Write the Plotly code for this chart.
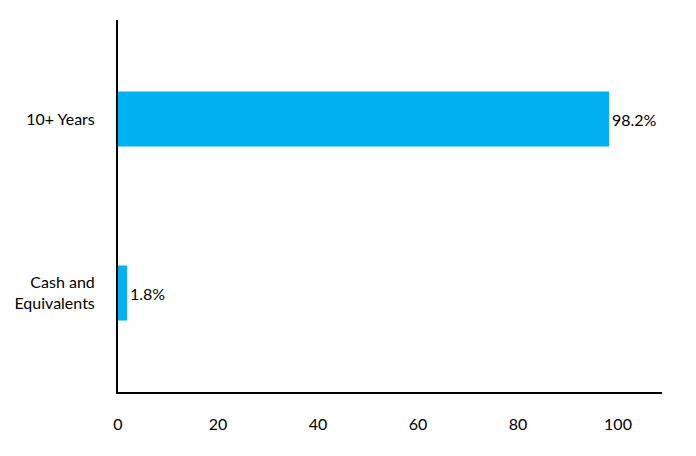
import plotly.graph_objects as go

categories = ["Cash and<br>Equivalents", "10+ Years"]
values = [1.8, 98.2]
labels = ["1.8%", "98.2%"]
x_ticks = [0, 20, 40, 60, 80, 100]

fig = go.Figure(go.Bar(
    y=categories, x=values, orientation="h",
    marker=dict(color="#00B0F0", line=dict(width=0)),
    width=0.316,
    text=labels, textposition="outside", cliponaxis=False,
    textfont=dict(family="Lato", size=16, color="#000000"),
    hoverinfo="skip",
))

fig.update_layout(
    width=696, height=456,
    margin=dict(l=118, r=34, t=20, b=64),
    paper_bgcolor="white", plot_bgcolor="white",
    font=dict(family="Lato", size=16, color="#000000"),
    showlegend=False,
    xaxis=dict(range=[0, 108.8], tickvals=x_ticks, showgrid=False, zeroline=False,
               showline=True, linecolor="black", linewidth=2, ticks="",
               ticklabelstandoff=17, tickfont=dict(size=16)),
    yaxis=dict(range=[-0.569, 1.569], showgrid=False, zeroline=False,
               showline=True, linecolor="black", linewidth=2, ticks="",
               ticklabelstandoff=18, tickfont=dict(size=16)),
)

fig.write_html("out.html", config={"displayModeBar": False},
               post_script="document.body.style.margin='0';document.body.style.padding='0';")
